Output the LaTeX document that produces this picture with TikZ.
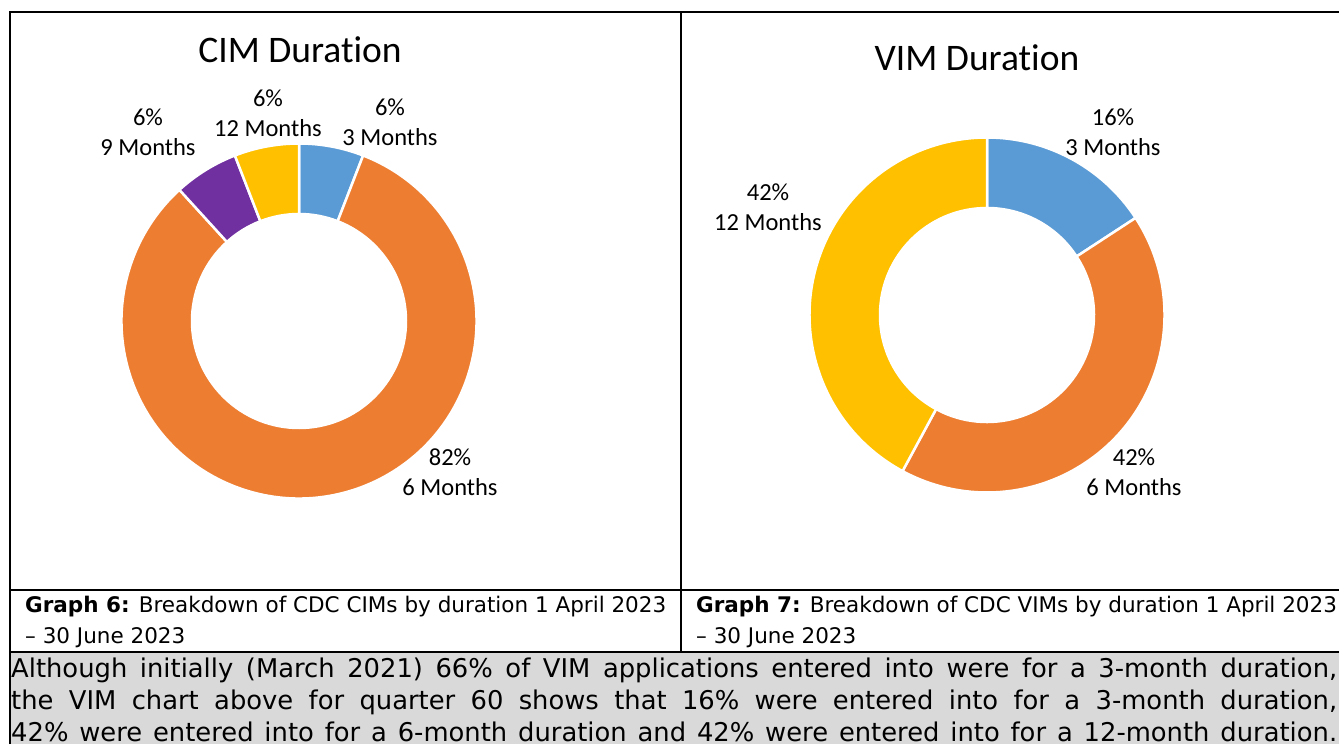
\documentclass[tikz,border=0pt]{standalone}
\usepackage{fontspec}
\setmainfont{Carlito}[Ligatures=NoCommon]
\newfontfamily\capfont{DejaVu Sans}
\usetikzlibrary{calc}
\definecolor{cblue}{HTML}{5B9BD5}
\definecolor{corange}{HTML}{ED7D31}
\definecolor{cyellow}{HTML}{FFC000}
\definecolor{cpurple}{HTML}{7030A0}
\definecolor{cgray}{HTML}{D9D9D9}
% #1 cx, #2 cy, #3 start, #4 end (degrees clockwise from top), #5 colour
\newcommand{\donutseg}[5]{%
  \filldraw[seg, fill=#5]
    ([shift={({#3-90}:177.5)}]#1,#2) arc[start angle={#3-90}, end angle={#4-90}, radius=177.5]
    -- ([shift={({#4-90}:107)}]#1,#2) arc[start angle={#4-90}, end angle={#3-90}, radius=107]
    -- cycle;}
\begin{document}
\begin{tikzpicture}[x=1bp,y=-1bp,
  rule/.style={line width=2bp, black},
  charttitle/.style={font=\fontsize{37.5bp}{44bp}\selectfont, anchor=base, inner sep=0},
  lab/.style={font=\fontsize{24.5bp}{30bp}\selectfont, anchor=base, inner sep=0},
  captxt/.style={font=\capfont\fontsize{21.5bp}{24bp}\selectfont, anchor=base west, inner sep=0},
  para/.style={font=\capfont\fontsize{25.8bp}{30bp}\selectfont, anchor=base west, inner sep=0},
  seg/.style={draw=white, line width=2.5bp}]
\useasboundingbox (0,0) rectangle (1339,744);
\clip (0,0) rectangle (1339,744);
\fill[cgray] (10,652) rectangle (1339,744);
% CIM donut
\donutseg{299}{321}{0}{21.18}{cblue}
\donutseg{299}{321}{21.18}{317.65}{corange}
\donutseg{299}{321}{317.65}{338.82}{cpurple}
\donutseg{299}{321}{338.82}{360}{cyellow}
% VIM donut
\donutseg{987}{315}{0}{56.84}{cblue}
\donutseg{987}{315}{56.84}{208.42}{corange}
\donutseg{987}{315}{208.42}{360}{cyellow}
% table rules
\draw[rule] (10,744) -- (10,12) -- (1339,12);
\draw[rule] (681,12) -- (681,652);
\draw[rule] (10,590) -- (1339,590);
\draw[rule] (10,652) -- (1339,652);
% titles
\node[charttitle] (t1) at (300,63) {CIM Duration};
\node[charttitle] (t2) at (977,70) {VIM Duration};
% CIM labels
\node[lab] (c1a) at (390,115) {6\%};
\node[lab] (c1b) at (390,145) {3 Months};
\node[lab] (c2a) at (268,106) {6\%};
\node[lab] (c2b) at (268,136) {12 Months};
\node[lab] (c3a) at (148,125) {6\%};
\node[lab] (c3b) at (148,155) {9 Months};
\node[lab] (c4a) at (450,465) {82\%};
\node[lab] (c4b) at (450,495) {6 Months};
% VIM labels
\node[lab] (v1a) at (1113,125) {16\%};
\node[lab] (v1b) at (1113,155) {3 Months};
\node[lab] (v2a) at (768,200) {42\%};
\node[lab] (v2b) at (768,230) {12 Months};
\node[lab] (v3a) at (1134,465) {42\%};
\node[lab] (v3b) at (1134,495) {6 Months};
% captions
\node[captxt] (g6a) at (25,612) {\textbf{Graph 6:} Breakdown of CDC CIMs by duration 1 April 2023};
\node[captxt] (g6b) at (25,643) {– 30 June 2023};
\node[captxt] (g7a) at (696,612) {\textbf{Graph 7:} Breakdown of CDC VIMs by duration 1 April 2023};
\node[captxt] (g7b) at (696,643) {– 30 June 2023};
% paragraph
\node[para] (p1) at (11,677) {\makebox[1326bp][s]{Although initially (March 2021) 66\% of VIM applications entered into were for a 3-month duration,}};
\node[para] (p2) at (11,709) {\makebox[1326bp][s]{the VIM chart above for quarter 60 shows that 16\% were entered into for a 3-month duration,}};
\node[para] (p3) at (11,741) {\makebox[1326bp][s]{42\% were entered into for a 6-month duration and 42\% were entered into for a 12-month duration.}};
\end{tikzpicture}
\end{document}
